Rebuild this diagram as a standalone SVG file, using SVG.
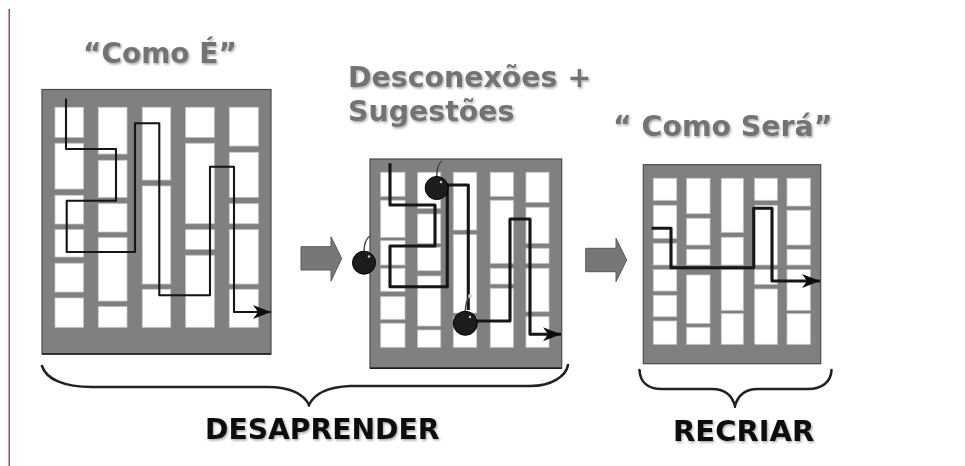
<svg xmlns="http://www.w3.org/2000/svg" width="965" height="466" viewBox="0 0 965 466">
<style>
.panel{fill:#808080;stroke:#4a4a4a;stroke-width:1.2}
.base{stroke:#1a1a1a;stroke-width:1.6;fill:none}
.cell{fill:#fff;stroke:#c8c8c8;stroke-width:.8}
.route{fill:none;stroke:#141414;stroke-linejoin:round}
.block{fill:#777;stroke:#5a5a5a;stroke-width:1}
.brace{fill:none;stroke:#222;stroke-width:2.6;stroke-linecap:round}
.title{font-family:"DejaVu Sans",sans-serif;font-weight:700;fill:#737373;filter:url(#shadow)}
.label{font-family:"DejaVu Sans",sans-serif;font-weight:700;fill:#111;filter:url(#shadow)}
.bomb{fill:#1f1f1f;stroke:#000;stroke-width:1}
.fuse{fill:none;stroke:#444;stroke-width:1.5}
.spark{fill:#ccc}
</style>
<defs>
<filter id="soft" x="-5%" y="-5%" width="110%" height="110%"><feGaussianBlur stdDeviation="0.45"/></filter>
<filter id="shadow" x="-5%" y="-15%" width="110%" height="140%"><feGaussianBlur in="SourceGraphic" stdDeviation="0.4" result="b"/><feDropShadow in="b" dx="1.2" dy="1.5" stdDeviation="1" flood-color="#000" flood-opacity=".35"/></filter>
<marker id="head" markerUnits="userSpaceOnUse" markerWidth="20" markerHeight="16" refX="18" refY="8" orient="auto"><path d="M0 1 L18 8 L0 15 L5 8 Z" fill="#111"/></marker>
</defs>
<rect width="965" height="466" fill="#fff"/>
<line x1="9.2" y1="9" x2="9.2" y2="466" stroke="#9c2f35" stroke-width="1.3"/>

<g id="panel-como-e" filter="url(#soft)">
<rect class="panel" x="42" y="89.5" width="229" height="264.5"/>
<line class="base" x1="42" y1="354" x2="271" y2="354"/>
<rect class="cell" x="55" y="107.3" width="28.5" height="30"/><rect class="cell" x="55" y="143.3" width="28.5" height="45.7"/><rect class="cell" x="55" y="195.3" width="28.5" height="28.7"/><rect class="cell" x="55" y="229.7" width="28.5" height="27.3"/><rect class="cell" x="55" y="263.3" width="28.5" height="28.7"/><rect class="cell" x="55" y="298" width="28.5" height="29.3"/>
<rect class="cell" x="98.3" y="107.3" width="28.7" height="46.7"/><rect class="cell" x="98.3" y="160.3" width="28.7" height="37"/><rect class="cell" x="98.3" y="203.7" width="28.7" height="28.3"/><rect class="cell" x="98.3" y="237.7" width="28.7" height="63.3"/><rect class="cell" x="98.3" y="306.7" width="28.7" height="20.6"/>
<rect class="cell" x="142.3" y="107.3" width="28.4" height="72.7"/><rect class="cell" x="142.3" y="186" width="28.4" height="98"/><rect class="cell" x="142.3" y="289.3" width="28.4" height="38"/>
<rect class="cell" x="185.7" y="107.3" width="28.6" height="30"/><rect class="cell" x="185.7" y="143.3" width="28.6" height="80.4"/><rect class="cell" x="185.7" y="229.7" width="28.6" height="19.6"/><rect class="cell" x="185.7" y="255.3" width="28.6" height="72"/>
<rect class="cell" x="229.3" y="107.3" width="29" height="38.7"/><rect class="cell" x="229.3" y="152.3" width="29" height="45"/><rect class="cell" x="229.3" y="203.7" width="29" height="20"/><rect class="cell" x="229.3" y="229.7" width="29" height="54.3"/><rect class="cell" x="229.3" y="289.3" width="29" height="38"/>
</g>

<g id="panel-desconexoes" filter="url(#soft)">
<rect class="panel" x="370" y="159" width="191.7" height="209"/>
<line class="base" x1="370" y1="368.3" x2="561.7" y2="368.3"/>
<rect class="cell" x="380.7" y="172.3" width="24.3" height="24"/><rect class="cell" x="380.7" y="200.3" width="24.3" height="37"/><rect class="cell" x="380.7" y="240.7" width="24.3" height="24.3"/><rect class="cell" x="380.7" y="268.3" width="24.3" height="23"/><rect class="cell" x="380.7" y="296.7" width="24.3" height="22.6"/><rect class="cell" x="380.7" y="323.3" width="24.3" height="24"/>
<rect class="cell" x="417.7" y="172.3" width="23" height="36"/><rect class="cell" x="417.7" y="214" width="23" height="29.3"/><rect class="cell" x="417.7" y="247.3" width="23" height="23.4"/><rect class="cell" x="417.7" y="276" width="23" height="50"/><rect class="cell" x="417.7" y="330" width="23" height="17.3"/>
<rect class="cell" x="453.3" y="172.3" width="23.4" height="57.7"/><rect class="cell" x="453.3" y="234.7" width="23.4" height="78.3"/><rect class="cell" x="453.3" y="317" width="23.4" height="30.3"/>
<rect class="cell" x="490.3" y="172.3" width="23" height="24"/><rect class="cell" x="490.3" y="200.3" width="23" height="63"/><rect class="cell" x="490.3" y="268.3" width="23" height="15.7"/><rect class="cell" x="490.3" y="288.3" width="23" height="59"/>
<rect class="cell" x="526" y="172.3" width="23" height="30"/><rect class="cell" x="526" y="207.3" width="23" height="36"/><rect class="cell" x="526" y="248.3" width="23" height="15"/><rect class="cell" x="526" y="268.3" width="23" height="43.4"/><rect class="cell" x="526" y="316.7" width="23" height="30.6"/>
</g>

<g id="panel-como-sera" filter="url(#soft)">
<rect class="panel" x="643.3" y="164.7" width="177.4" height="199"/>
<rect class="cell" x="653.3" y="178.3" width="23.4" height="22"/><rect class="cell" x="653.3" y="205.3" width="23.4" height="33"/><rect class="cell" x="653.3" y="243.3" width="23.4" height="21.7"/><rect class="cell" x="653.3" y="269.7" width="23.4" height="21.3"/><rect class="cell" x="653.3" y="295.3" width="23.4" height="21.4"/><rect class="cell" x="653.3" y="321" width="23.4" height="23.3"/>
<rect class="cell" x="686.7" y="178.3" width="23.3" height="35.4"/><rect class="cell" x="686.7" y="218.3" width="23.3" height="26.7"/><rect class="cell" x="686.7" y="249.3" width="23.3" height="15.7"/><rect class="cell" x="686.7" y="275" width="23.3" height="48.3"/><rect class="cell" x="686.7" y="327.3" width="23.3" height="17"/>
<rect class="cell" x="721.3" y="178.3" width="22" height="54"/><rect class="cell" x="721.3" y="237.3" width="22" height="27.7"/><rect class="cell" x="721.3" y="269.7" width="22" height="40.6"/><rect class="cell" x="721.3" y="313.7" width="22" height="30.6"/>
<rect class="cell" x="754.7" y="178.3" width="22.6" height="22"/><rect class="cell" x="754.7" y="205.3" width="22.6" height="59.7"/><rect class="cell" x="754.7" y="269.7" width="22.6" height="14.6"/><rect class="cell" x="754.7" y="289" width="22.6" height="55.3"/>
<rect class="cell" x="787" y="178.3" width="23.3" height="27.7"/><rect class="cell" x="787" y="210.3" width="23.3" height="34.7"/><rect class="cell" x="787" y="249.3" width="23.3" height="15.7"/><rect class="cell" x="787" y="269.7" width="23.3" height="40.6"/><rect class="cell" x="787" y="313.7" width="23.3" height="30.6"/>
</g>

<g id="connectors" filter="url(#soft)">
<path class="route" stroke-width="2.1" marker-end="url(#head)" d="M66 98.5V149H116V200.7H66.7V252H135V123.3H159.3V295.3H210V166.7H234V312H271"/>
<path class="route" stroke-width="3.1" d="M390 163.3V205H435V246H390V286.7H447.3V185H468.3V310"/>
<path class="route" stroke-width="3.1" marker-end="url(#head)" d="M476 321H510V219H530V334.3H561"/>
<path class="route" stroke-width="3.1" marker-end="url(#head)" d="M651.7 228.3H671V267.7H753.7V208.3H772V281H820"/>
</g>

<g id="block-arrow-1" filter="url(#soft)"><path class="block" d="M301 246.7H331V236.7L341.7 258.5L331 281V270H301Z"/></g>
<g id="block-arrow-2" filter="url(#soft)"><path class="block" d="M585.7 248.3H616V238.3L626.7 260L616 281.7V271.7H585.7Z"/></g>

<g id="bomb-1" filter="url(#soft)"><path class="fuse" d="M364 252C364 243 367 238 370 236"/><circle class="bomb" cx="364" cy="262.7" r="11.5"/><circle class="spark" cx="369" cy="256.5" r="1.2"/></g>
<g id="bomb-2" filter="url(#soft)"><path class="fuse" d="M436.7 177C436.7 168 439 163 442 161"/><circle class="bomb" cx="436.7" cy="188" r="11.5"/><circle class="spark" cx="441" cy="182" r="1.2"/></g>
<g id="bomb-3" filter="url(#soft)"><path class="fuse" d="M465.3 311C465.5 305 467 299 470 296"/><circle class="spark" cx="470" cy="296" r="2"/><circle class="bomb" cx="465.3" cy="323.3" r="12"/><circle class="spark" cx="470" cy="317" r="1.2"/></g>

<g id="brace-desaprender" filter="url(#soft)"><path class="brace" d="M42 366C46 379 64 387 92 387H268C290 387 304 394 309 405C314 394 328 387 350 386H530C552 386 566 376 568 365"/></g>
<g id="brace-recriar" filter="url(#soft)"><path class="brace" d="M639.5 370C640 382 648 389 662 389H712C724 389 732 395 735 406C738 395 746 389 758 389H808C822 389 831 382 831.5 370"/></g>

<g id="label-como-e"><text class="title" x="83" y="63" font-size="28">“Como É”</text></g>
<g id="label-desconexoes"><text class="title" x="348" y="87" font-size="28.4">Desconexões +</text><text class="title" x="348" y="121" font-size="28.4">Sugestões</text></g>
<g id="label-como-sera"><text class="title" x="613" y="136" font-size="28.4">“ Como Será”</text></g>
<g id="label-desaprender"><text class="label" x="205" y="439" font-size="28.2">DESAPRENDER</text></g>
<g id="label-recriar"><text class="label" x="673" y="441" font-size="29">RECRIAR</text></g>
</svg>
